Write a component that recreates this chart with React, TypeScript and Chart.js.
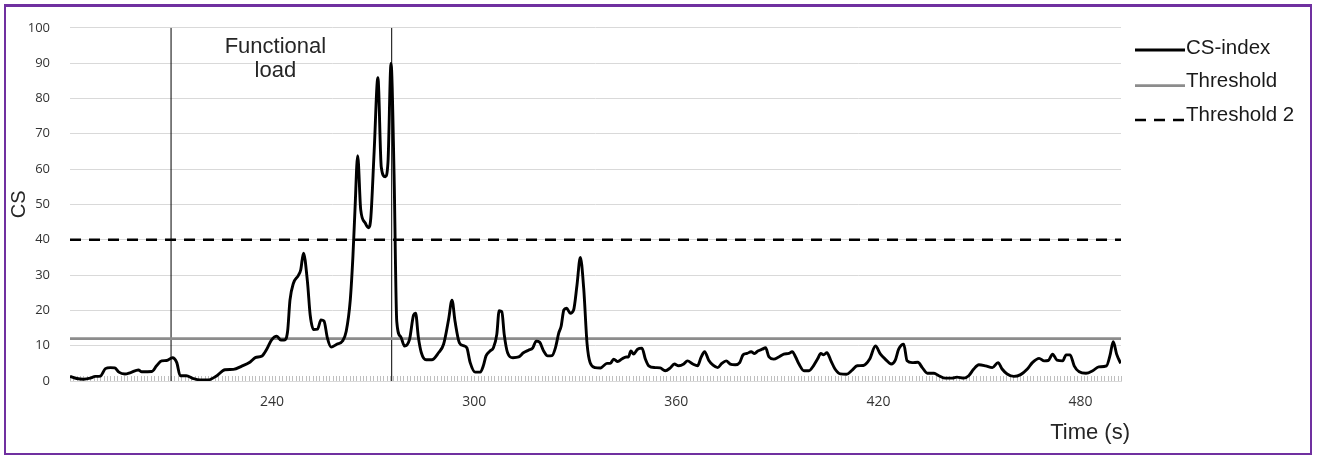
import React, { useEffect, useRef } from 'react';
import { Chart, registerables } from 'chart.js';

Chart.register(...registerables);

// ---- Data ----
const timeSeconds: number[] = [
  180, 182, 184, 186, 187.5, 189, 190.5, 192, 193.3, 194.5, 196.3, 198, 200.3, 201.3, 204.3, 205.7, 207.2, 208.7,
  210.4, 211.7, 212.7, 214.5, 216.6, 218.6, 221, 223.6, 226, 228.5, 231, 233.5, 235, 237, 238.4, 239.8,
  241.4, 242.6, 243.6, 244.6, 245.3, 246.3, 247.8, 248.5, 249.3, 250.5, 251.3, 252.3, 253.5, 254.5, 255.4, 256.4,
  257.5, 259.2, 260.9, 262, 263.2, 264, 264.6, 265.4, 266.3, 267.6, 268.6, 269.3, 270.3, 271.4, 272.4, 273.6,
  274.4, 275.3, 276.2, 277, 278.2, 279.3, 280.8, 282, 282.6, 283.4, 284.3, 285.7, 287.4, 289.4, 290.9, 292.4,
  293.4, 294.3, 295.6, 296.8, 297.8, 298.8, 300.3, 301.8, 302.7, 303.5, 304.7, 305.7, 306.7, 307.4, 308.2, 308.9,
  309.9, 311.5, 313.2, 314.6, 316.1, 317.4, 318.4, 319.4, 320.6, 321.8, 323.1, 324.1, 325.1, 325.8, 326.6, 327.4,
  328.5, 329.5, 330.5, 331.5, 332.5, 333.5, 334.4, 335.9, 337.5, 339.4, 340.4, 341.4, 342.6, 343.8, 345.1, 345.8,
  346.5, 347.3, 348.5, 349.8, 350.8, 351.8, 353.7, 355.2, 356.7, 358.2, 359.4, 360.7, 362.2, 363.3, 364.9, 366.3,
  367.3, 368.4, 369.6, 370.9, 372.3, 373.5, 374.8, 376, 377.5, 378.8, 379.8, 381, 382.2, 383.2, 384.2, 385.5,
  386.5, 387.5, 388.9, 390.4, 391.9, 393.4, 394.4, 395.4, 396.4, 397.9, 399.4, 400.7, 401.9, 402.9, 403.7, 404.7,
  405.9, 407.1, 408.7, 410.5, 412.2, 413.7, 415.5, 417.4, 419.1, 420.6, 422, 423.8, 425, 426, 427.5, 428.5,
  430, 431.7, 433, 434.5, 436.5, 437.9, 439.9, 441.9, 443.3, 445.3, 446.8, 448.3, 449.8, 451.8, 453.8, 455.5,
  456.7, 458.2, 460.2, 462.2, 464.2, 465.7, 467.7, 469.2, 470.4, 471.7, 473, 474.7, 475.7, 476.9, 478.1, 479.6,
  481.6, 483.6, 485.4, 487.7, 488.7, 489.7, 490.7, 491.9,
];

const csIndex: number[] = [
  1.3, 0.7, 0.5, 0.8, 1.3, 1.4, 3.5, 3.8, 3.7, 2.5, 2.0, 2.4, 3.1, 2.6, 2.7, 4.3, 5.7, 5.8,
  6.6, 5.2, 1.5, 1.5, 0.7, 0.3, 0.3, 1.5, 3.2, 3.3, 4.2, 5.4, 6.6, 7.1, 9.0, 11.6,
  12.7, 11.6, 11.6, 14.1, 22.9, 27.6, 29.9, 31.5, 36.2, 28, 18.7, 14.6, 14.7, 17.3, 17.0, 12.2,
  9.6, 10.4, 11.3, 14.1, 22.9, 35.5, 48.5, 63.8, 48.5, 44.8, 43.4, 46.2, 65.2, 85.9, 60.6, 57.8,
  62, 89.9, 58.7, 16.9, 12.5, 9.9, 11.8, 18.7, 19.2, 12.5, 8.0, 6.0, 6.0, 8.0, 10.4, 17.5,
  22.9, 16.9, 10.8, 10, 9.4, 5.2, 2.5, 2.5, 4.3, 7.1, 8.5, 9.4, 13.2, 19.9, 19.6, 13.2,
  8.0, 6.6, 6.8, 8.0, 8.7, 9.4, 11.3, 11.0, 8.5, 7.1, 7.2, 9.4, 13.6, 15.5, 20.1, 20.6,
  19.2, 20.1, 27.1, 35.0, 26.2, 10.5, 5.2, 3.8, 3.7, 5.0, 5.0, 6.2, 5.5, 6.2, 6.8, 6.8,
  8.5, 7.6, 9.0, 9.3, 6.2, 4.3, 3.8, 3.7, 2.9, 3.7, 4.8, 4.3, 4.8, 5.7, 4.8, 4.3,
  6.6, 8.3, 5.9, 4.5, 3.8, 5.0, 5.7, 4.8, 4.6, 5.2, 7.4, 7.8, 8.3, 7.8, 8.5, 9.0,
  9.4, 6.8, 6.2, 6.8, 7.6, 7.8, 8.3, 6.8, 4.8, 2.9, 2.9, 4.3, 6.2, 7.8, 7.4, 8.0,
  5.7, 3.4, 2.0, 1.9, 3.1, 4.3, 4.4, 6.2, 9.9, 7.6, 6.2, 4.8, 5.9, 9.0, 10.4, 5.7,
  5.2, 5.3, 3.8, 2.2, 2.2, 1.5, 0.8, 0.8, 1.1, 0.8, 1.5, 3.4, 4.6, 4.3, 3.8, 5.2,
  3.4, 2.0, 1.3, 1.8, 3.4, 5.2, 6.4, 5.7, 5.8, 7.6, 5.9, 5.7, 7.4, 7.4, 4.3, 2.6,
  2.2, 2.9, 4.0, 4.3, 7.1, 11.1, 7.6, 5.0,
];

const thresholdValue = 12;
const threshold2Value = 40;
const timeMin = 180;
const timeMax = 492;
const timeTickLabels: number[] = [240, 300, 360, 420, 480];
const loadStart = 210;
const loadEnd = 275.5;
const yMin = 0;
const yMax = 100;
const yStep = 10;
const legendNames: string[] = ['CS-index', 'Threshold', 'Threshold 2'];
const annotationLines: string[] = ['Functional', 'load'];
const xTitle = 'Time (s)';
const yTitle = 'CS';

const TEXT_FONT = '"Liberation Sans", Arial, sans-serif';
const TICK_FONT = '"Open Sans", sans-serif';

const decorPlugin = {
  id: 'decor',
  beforeDatasetsDraw(chart: any) {
    const { ctx, scales } = chart;
    const x = scales.x;
    const y = scales.y;
    const y0 = y.getPixelForValue(0);
    ctx.save();
    ctx.strokeStyle = '#bfbfbf';
    ctx.lineWidth = 1;
    for (let t = timeMin; t <= timeMax; t++) {
      const px = Math.round(x.getPixelForValue(t)) + 0.5;
      ctx.beginPath();
      ctx.moveTo(px, y0 - 5);
      ctx.lineTo(px, y0);
      ctx.stroke();
    }
    ctx.restore();
  },
  afterDraw(chart: any) {
    const { ctx, scales, chartArea } = chart;
    const x = scales.x;
    ctx.save();
    // annotation between the two vertical markers
    ctx.fillStyle = '#262626';
    ctx.font = `22px ${TEXT_FONT}`;
    ctx.textAlign = 'center';
    ctx.textBaseline = 'middle';
    const cx = (x.getPixelForValue(loadStart) + x.getPixelForValue(loadEnd)) / 2 - 6;
    annotationLines.forEach((s, i) => ctx.fillText(s, cx, 47 + i * 24));

    // x axis title
    ctx.font = `22px ${TEXT_FONT}`;
    ctx.textAlign = 'right';
    ctx.textBaseline = 'alphabetic';
    ctx.fillText(xTitle, chartArea.right + 9, 439);

    // legend
    const rowsY = [48, 81.5, 115];
    const lineOffsets = [2, 4, 5];
    const lx0 = chartArea.right + 14;
    const lx1 = lx0 + 50;
    legendNames.forEach((name, i) => {
      const ds = chart.data.datasets.find((d: any) => d.label === name);
      if (!ds) return;
      const ly = rowsY[i] + lineOffsets[i];
      ctx.beginPath();
      ctx.strokeStyle = ds.borderColor;
      ctx.lineWidth = ds.borderWidth;
      ctx.setLineDash(ds.borderDash || []);
      ctx.moveTo(lx0, ly);
      ctx.lineTo(lx1, ly);
      ctx.stroke();
      ctx.setLineDash([]);
      ctx.fillStyle = '#1a1a1a';
      ctx.font = `20.5px ${TEXT_FONT}`;
      ctx.textAlign = 'left';
      ctx.textBaseline = 'middle';
      ctx.fillText(name, lx1 + 1, rowsY[i]);
    });
    ctx.restore();
  },
};

export default function App() {
  const canvasRef = useRef<HTMLCanvasElement | null>(null);

  useEffect(() => {
    const canvas = canvasRef.current;
    if (!canvas) return;
    const csPoints = timeSeconds.map((t, i) => ({ x: t, y: csIndex[i] }));
    const chart = new Chart(canvas, {
      type: 'line',
      data: {
        datasets: [
          {
            label: 'CS-index',
            data: csPoints,
            borderColor: '#000000',
            borderWidth: 2.9,
            pointRadius: 0,
            cubicInterpolationMode: 'monotone',
            fill: false,
          },
          {
            label: 'Threshold',
            data: [
              { x: timeMin, y: thresholdValue },
              { x: timeMax, y: thresholdValue },
            ],
            borderColor: '#8c8c8c',
            borderWidth: 2.75,
            pointRadius: 0,
            fill: false,
          },
          {
            label: 'Threshold 2',
            data: [
              { x: timeMin, y: threshold2Value },
              { x: timeMax, y: threshold2Value },
            ],
            borderColor: '#000000',
            borderWidth: 2.5,
            borderDash: [11, 8],
            pointRadius: 0,
            fill: false,
          },
          {
            label: 'load-start',
            data: [
              { x: loadStart, y: yMin },
              { x: loadStart, y: yMax },
            ],
            borderColor: '#000000',
            borderWidth: 1,
            pointRadius: 0,
            fill: false,
          },
          {
            label: 'load-end',
            data: [
              { x: loadEnd, y: yMin },
              { x: loadEnd, y: yMax },
            ],
            borderColor: '#000000',
            borderWidth: 1,
            pointRadius: 0,
            fill: false,
          },
        ],
      },
      options: {
        animation: false,
        responsive: false,
        devicePixelRatio: 1,
        layout: { padding: { left: 0, top: 22, right: 201, bottom: 0 } },
        plugins: {
          legend: { display: false },
          tooltip: { enabled: false },
        },
        scales: {
          x: {
            type: 'linear',
            min: timeMin,
            max: timeMax,
            afterBuildTicks: (scale: any) => {
              scale.ticks = timeTickLabels.map((v) => ({ value: v }));
            },
            afterFit: (scale: any) => {
              scale.height = 74;
            },
            ticks: {
              autoSkip: false,
              maxRotation: 0,
              padding: 13,
              color: '#333333',
              font: { family: TICK_FONT, size: 14 },
            },
            grid: { display: false, drawTicks: false },
            border: { display: true, color: '#d9d9d9', width: 1 },
          },
          y: {
            type: 'linear',
            min: yMin,
            max: yMax,
            afterFit: (scale: any) => {
              scale.width = 70;
            },
            ticks: {
              stepSize: yStep,
              padding: 20,
              color: '#333333',
              font: { family: TICK_FONT, size: 13 },
            },
            grid: { color: '#d9d9d9', lineWidth: 1, drawTicks: false },
            border: { display: false },
            title: {
              display: true,
              text: yTitle,
              color: '#262626',
              font: { family: TEXT_FONT, size: 20 },
              padding: { top: 7, bottom: 0 },
            },
          },
        },
      },
      plugins: [decorPlugin],
    } as any);
    return () => chart.destroy();
  }, []);

  return (
    <div style={{ position: 'fixed', left: 0, top: 0, width: 1322, height: 455, background: '#ffffff' }}>
      <div
        style={{
          position: 'absolute',
          left: 4,
          top: 4,
          width: 1308,
          height: 451,
          border: '2px solid #7030A0',
          borderTopWidth: 3,
          boxSizing: 'border-box',
        }}
      />
      <canvas
        ref={canvasRef}
        width={1322}
        height={455}
        style={{ position: 'absolute', left: 0, top: 0, width: 1322, height: 455 }}
      />
    </div>
  );
}
